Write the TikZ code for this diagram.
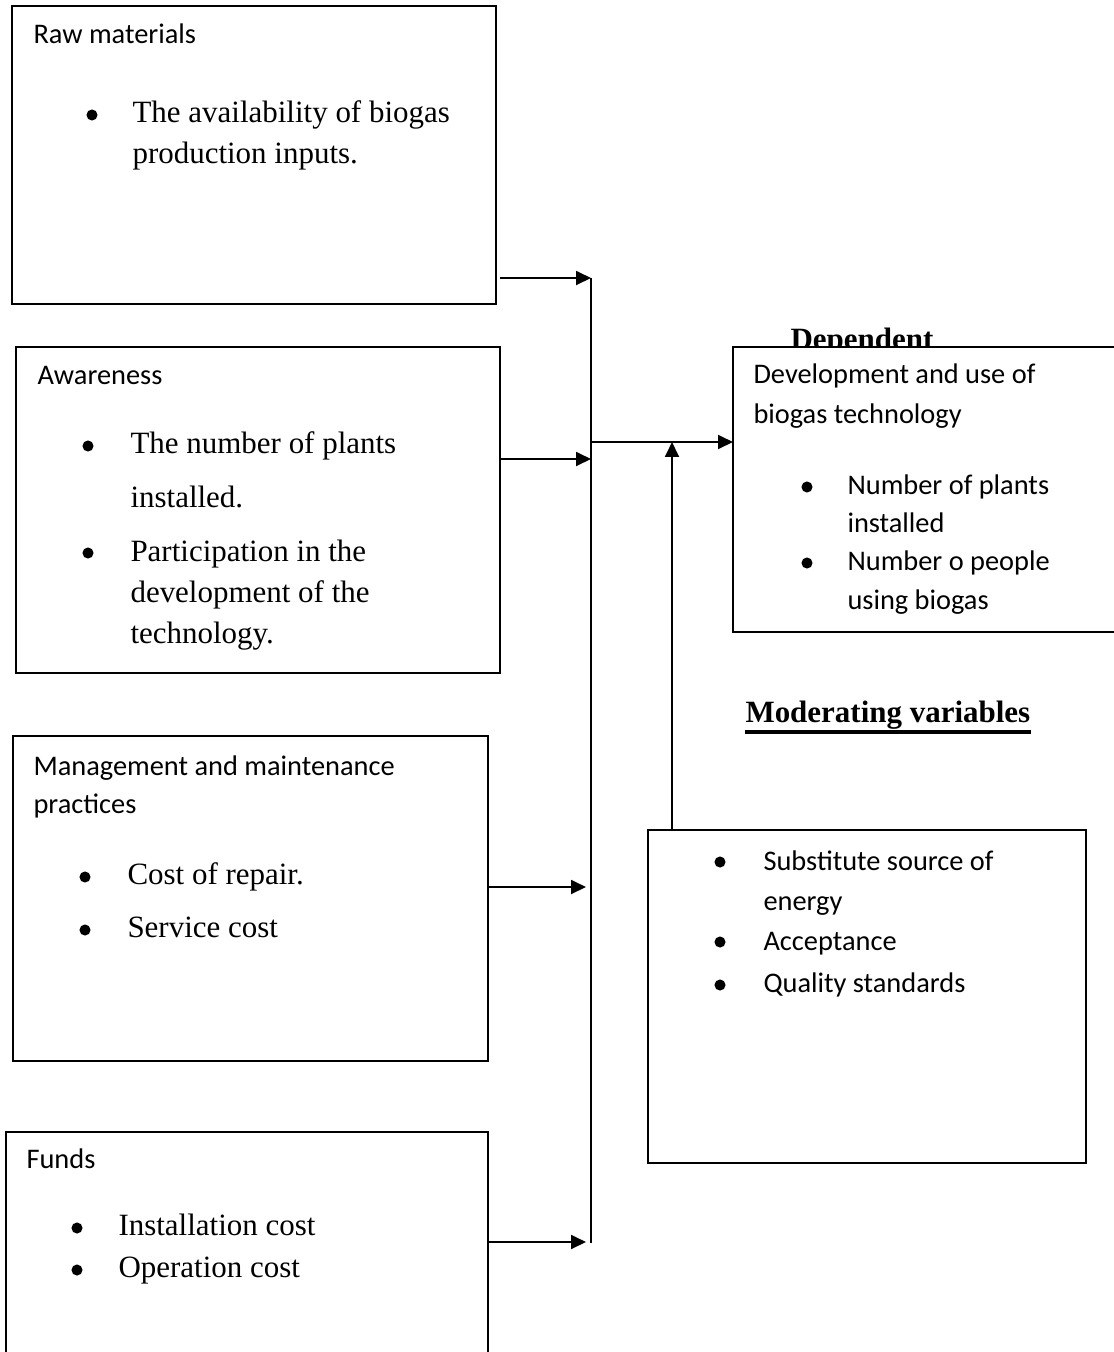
\documentclass[tikz,border=0pt]{standalone}
\usepackage{fontspec}
\setmainfont{Liberation Serif}
\newfontfamily\calfont{Carlito}
\usetikzlibrary{arrows.meta}
\newcommand\mkbox[5]{\node[box, minimum width={(#4-#2)*0.3875pt}, minimum height={(#5-#3)*0.3875pt}] (#1) at (#2,#3) {};}
\begin{document}
\begin{tikzpicture}[x=0.3875pt, y=-0.3875pt,
  box/.style={draw, line width=0.78pt, fill=white, anchor=north west, inner sep=0pt, outer sep=0pt},
  ser/.style={anchor=base west, inner sep=0pt, font=\fontsize{12}{14}\selectfont},
  serb/.style={anchor=base west, inner sep=0pt, font=\fontsize{12}{14}\selectfont\bfseries},
  san/.style={anchor=base west, inner sep=0pt, font=\calfont\fontsize{11}{13}\selectfont},
  dot/.style={circle, fill, inner sep=0pt, minimum size=4.3pt},
  arr/.style={line width=0.78pt, -{Triangle[length=5.8pt, width=5.4pt]}},
  ln/.style={line width=0.78pt},
  uline/.style={line width=1.3pt}]
\useasboundingbox (0,0) rectangle (1114,1352);
\clip (0,0) rectangle (1114,1352);

% boxes
\mkbox{raw}{12}{6}{496}{304}
\mkbox{aware}{16}{347}{500}{673}
\mkbox{mgmt}{13}{736}{488}{1061}
\mkbox{funds}{6}{1132}{488}{1380}
\node[serb] (deplbl) at (790,349) {Dependent};
\mkbox{dep}{733}{347}{1140}{632}
\mkbox{mod}{648}{830}{1086}{1163}

% Raw materials
\node[san] (t1) at (33,43) {Raw materials};
\node[dot] (b11) at (92,115) {};
\node[ser] (t11) at (132,122) {The availability of biogas};
\node[ser] (t12) at (132,163) {production inputs.};

% Awareness
\node[san] (t2) at (37,384) {Awareness};
\node[dot] (b21) at (88,446) {};
\node[ser] (t21) at (130,453) {The number of plants};
\node[ser] (t22) at (130,507) {installed.};
\node[dot] (b22) at (88,553) {};
\node[ser] (t23) at (130,561) {Participation in the};
\node[ser] (t24) at (130,602) {development of the};
\node[ser] (t25) at (130,643) {technology.};

% Management
\node[san] (t3) at (33,775) {Management and maintenance};
\node[san] (t3b) at (33,813) {practices};
\node[dot] (b31) at (85,877) {};
\node[ser] (t31) at (127,884) {Cost of repair.};
\node[dot] (b32) at (85,930) {};
\node[ser] (t32) at (127,937) {Service cost};

% Funds
\node[san] (t4) at (26,1168) {Funds};
\node[dot] (b41) at (77,1228) {};
\node[ser] (t41) at (118,1235) {Installation cost};
\node[dot] (b42) at (77,1270) {};
\node[ser] (t42) at (118,1277) {Operation cost};

% Dependent
\node[san] (t5) at (753,383) {Development and use of};
\node[san] (t5b) at (753,423) {biogas technology};
\node[dot] (b51) at (807,487) {};
\node[san] (t51) at (847,494) {Number of plants};
\node[san] (t52) at (847,532) {installed};
\node[dot] (b52) at (807,563) {};
\node[san] (t53) at (847,570) {Number o people};
\node[san] (t54) at (847,609) {using biogas};

% Moderating
\node[serb] (modlbl) at (745,722) {Moderating variables};
\draw[uline] ([yshift=-10*0.3875pt]modlbl.base west) -- ([yshift=-10*0.3875pt]modlbl.base east);
\node[dot] (b61) at (720,862) {};
\node[san] (t61) at (763,870) {Substitute source of};
\node[san] (t62) at (763,910) {energy};
\node[dot] (b62) at (720,942) {};
\node[san] (t63) at (763,950) {Acceptance};
\node[dot] (b63) at (720,985) {};
\node[san] (t64) at (763,992) {Quality standards};

% connectors
\coordinate (j1) at (591,278);
\coordinate (j2) at (591,459);
\coordinate (j3) at (586,887);
\coordinate (j4) at (586,1242);
\coordinate (s1) at (500,278);
\coordinate (jtop) at (591,278);
\coordinate (jbot) at (591,1243);
\coordinate (jm) at (591,442);
\coordinate (jt) at (672,442);
\draw[ln] (jtop) -- (jbot);
\draw[arr] (s1) -- (j1);
\draw[arr] (aware.east |- j2) -- (j2);
\draw[arr] (mgmt.east |- j3) -- (j3);
\draw[arr] (funds.east |- j4) -- (j4);
\draw[arr] (jm) -- (dep.west |- jm);
\draw[arr] (mod.north -| jt) -- (jt);
\end{tikzpicture}
\end{document}
